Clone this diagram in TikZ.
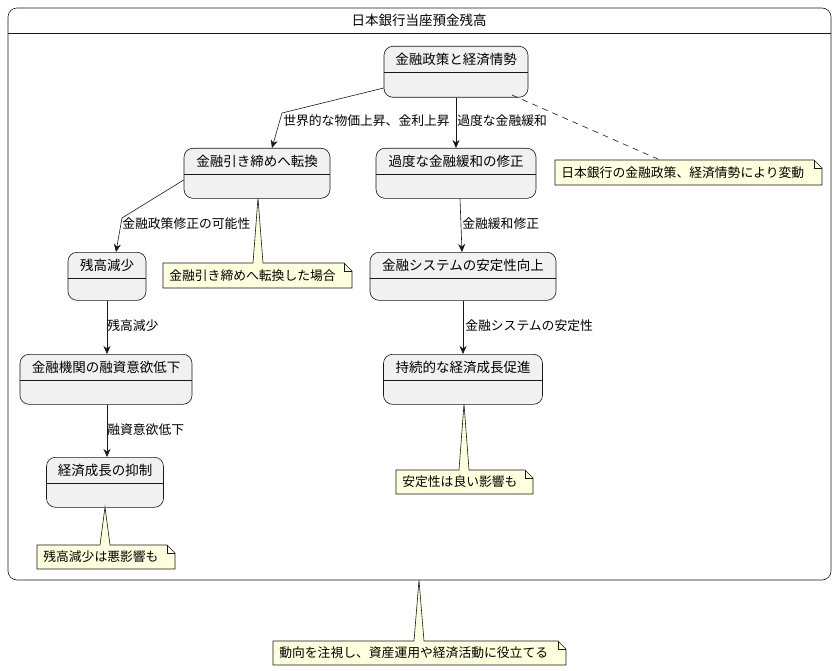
\documentclass[tikz,border=0pt]{standalone}
\usepackage{fontspec}
\newfontfamily\cjk{Noto Sans CJK JP}
\usetikzlibrary{arrows.meta, calc}
\definecolor{stfill}{HTML}{F1F1F1}
\definecolor{notefill}{HTML}{FEFFDD}
\definecolor{edge}{HTML}{181818}

% state: name, centre x, top y, width, height, text
\newcommand{\stbox}[6]{%
  \node[state, minimum width=#4pt, minimum height=#5pt, anchor=north] (#1) at (#2,#3) {};
  \node[font=\cjk\fontsize{13.5}{15}\selectfont] at ($(#1.north)+(0,13)$) {#6};
  \draw[edge] ($(#1.north west)+(0,26)$) -- ($(#1.north east)+(0,26)$);
}
% note: name, x1, y1, x2, y2, text, spike x1, spike x2, spike tip
\newcommand{\notebox}[9]{%
  \fill[notefill] (#7,#3) -- (#9) -- (#8,#3) -- cycle;
  \draw[edge, fill=notefill] (#2,#3) -- (#7,#3) -- (#9) -- (#8,#3) -- (#4-8,#3) -- (#4,#3+8) -- (#4,#5) -- (#2,#5) -- cycle;
  \draw[edge] (#4-8,#3) -- (#4-8,#3+8) -- (#4,#3+8);
  \node[font=\cjk\fontsize{12.8}{15}\selectfont, anchor=west, inner sep=0pt] (#1) at (#2+6,{(#3+#5)/2}) {#6};
}

\begin{document}
\begin{tikzpicture}[x=1pt, y=-1pt, line width=0.6pt,
    state/.style={draw=edge, fill=stfill, rounded corners=9pt, inner sep=0pt},
    lbl/.style={font=\cjk\fontsize{12.8}{15}\selectfont, anchor=west, inner sep=1pt},
    arr/.style={draw=edge, -{Stealth[length=8pt, width=7pt]}}]
\useasboundingbox (0,0) rectangle (837,671);

% --- composite ---
\draw[edge, fill=white, rounded corners=9pt] (8,8) rectangle (831,580);
\draw[edge] (8,33) -- (831,33);
\node[font=\cjk\fontsize{13.5}{15}\selectfont] (title) at (419,20) {日本銀行当座預金残高};

% --- states ---
\stbox{policy}{456}{46}{144}{51}{金融政策と経済情勢}
\stbox{tight}{257}{148}{146}{50}{金融引き締めへ転換}
\stbox{fix}{456}{148}{160}{50}{過度な金融緩和の修正}
\stbox{dec}{107}{252}{78}{48}{残高減少}
\stbox{stable}{463}{252}{186}{48}{金融システムの安定性向上}
\stbox{bank}{106}{354}{172}{50}{金融機関の融資意欲低下}
\stbox{growth}{463}{354}{159}{50}{持続的な経済成長促進}
\stbox{curb}{105}{457}{117}{50}{経済成長の抑制}

% --- transitions ---
\draw[arr] (policy.west |- 0,88) -- (282,113) -- (tight.north -| 272,0);
\node[lbl] at (282,121) {世界的な物価上昇、金利上昇};
\draw[arr] (policy) -- (fix);
\node[lbl] at (456,121) {過度な金融緩和};
\draw[arr] (tight.west |- 0,180) -- (122,218) -- (dec.north -| 116,0);
\node[lbl] at (121,224) {金融政策修正の可能性};
\draw[arr] (fix.south -| 460,0) -- (stable.north -| 462,0);
\node[lbl] at (461,224) {金融緩和修正};
\draw[arr] (dec) -- (dec |- bank.north);
\node[lbl] at (106,326) {残高減少};
\draw[arr] (stable) -- (growth);
\node[lbl] at (464,326) {金融システムの安定性};
\draw[arr] (bank.south -| 107,0) -- (curb.north -| 107,0);
\node[lbl] at (106,430) {融資意欲低下};

% --- notes ---
\coordinate (tipA) at (512,95);
\draw[edge, dash pattern=on 6pt off 5pt] (tipA) -- (660,160);
\notebox{noteA}{555}{160}{822}{185}{日本銀行の金融政策、経済情勢により変動}{660}{660}{660,160}
\coordinate (tipB) at (258,198);
\notebox{noteB}{163}{263}{352}{288}{金融引き締めへ転換した場合}{253}{263}{tipB}
\coordinate (tipC) at (464,404);
\notebox{noteC}{396}{470}{533}{494}{安定性は良い影響も}{459}{469}{tipC}
\coordinate (tipD) at (105,507);
\notebox{noteD}{37}{545}{175}{569}{残高減少は悪影響も}{100}{110}{tipD}
\coordinate (tipE) at (419,580);
\notebox{noteE}{273}{641}{566}{665}{動向を注視し、資産運用や経済活動に役立てる}{414}{424}{tipE}
\end{tikzpicture}
\end{document}
